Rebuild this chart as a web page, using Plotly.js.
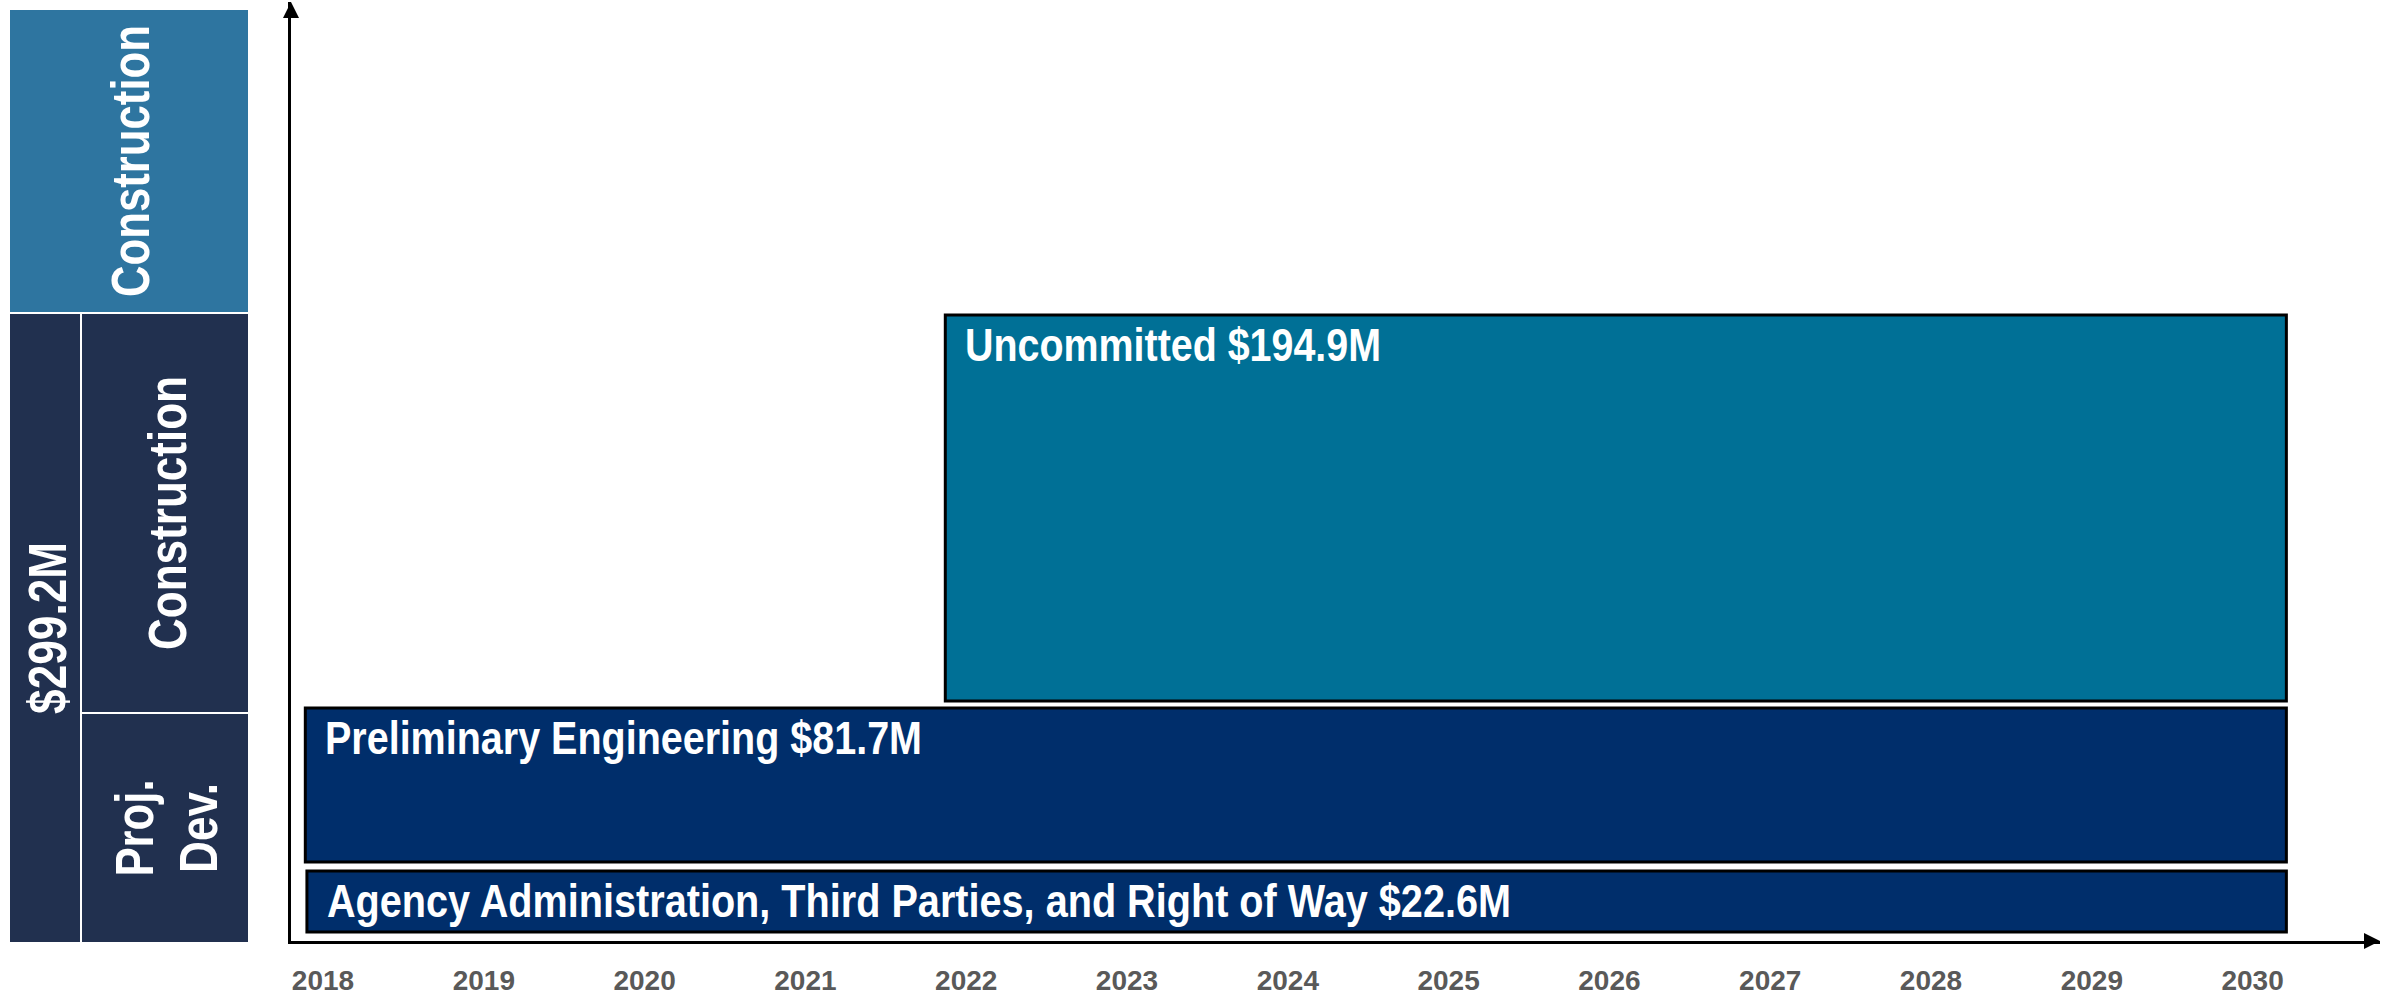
<!DOCTYPE html>
<html>
<head>
<meta charset="utf-8">
<script src="https://cdn.plot.ly/plotly-3.0.1.min.js"></script>
<style>html,body{margin:0;padding:0;background:#fff;}#chart{width:2400px;height:998px;}</style>
</head>
<body>
<div id="chart"></div>
<script>
// ---- data ----
const years = [2018, 2019, 2020, 2021, 2022, 2023, 2024, 2025, 2026, 2027, 2028, 2029, 2030];
const yearLabels = years.map(String);
const barNames = ['Agency Administration, Third Parties, and Right of Way', 'Preliminary Engineering', 'Uncommitted'];
const barAmounts = [22.6, 81.7, 194.9];           // $M
const barStart = [2017.9, 2017.89, 2021.87];       // timeline start (year)
const barEnd = [2030.21, 2030.21, 2030.21];        // timeline end (year)
const barBottom = [0.96, 8.41, 25.56];             // schematic vertical extent (0-100)
const barTop = [7.45, 24.81, 66.67];
const barColors = ['#002E6B', '#002E6B', '#007096'];
const totalLabel = '$299.2M';
const phaseLabels = ['Construction', 'Construction', 'Proj.', 'Dev.'];

// ---- layout helpers (pixel -> paper) ----
const W = 2400, H = 998;
const ML = 291, MR = 20, MT = 2, MB = 57;
const PW = W - ML - MR, PH = H - MT - MB;
const px = x => (x - ML) / PW;
const py = y => (H - MB - y) / PH;

const FONT = '"Liberation Sans", Arial, sans-serif';

const trace = {
  type: 'bar',
  orientation: 'h',
  y: barBottom.map((b, i) => (b + barTop[i]) / 2),
  width: barBottom.map((b, i) => barTop[i] - b),
  base: barStart,
  x: barStart.map((s, i) => barEnd[i] - s),
  marker: {color: barColors, line: {color: '#000000', width: 3}},
  hoverinfo: 'skip',
  showlegend: false
};

// condensed widths (px) to mimic the narrow typeface of the original
const condensed = [];

const annotations = barNames.map((n, i) => ({
  xref: 'x', yref: 'y', x: barStart[i], y: barTop[i],
  xanchor: 'left', yanchor: 'top', align: 'left', xshift: 18, yshift: -2,
  text: n + ' $' + barAmounts[i].toFixed(1) + 'M', showarrow: false,
  font: {family: FONT, size: 46, color: '#ffffff', weight: 'bold'}
}));
condensed.push(1184, 597, 416);

const sideText = (t, x, y) => ({
  xref: 'paper', yref: 'paper', x: px(x), y: py(y), xanchor: 'center', yanchor: 'middle',
  text: t, textangle: -90, showarrow: false,
  font: {family: FONT, size: 54, color: '#ffffff', weight: 'bold'}
});
annotations.push(sideText(phaseLabels[0], 130, 161)); condensed.push(272);
annotations.push(sideText(phaseLabels[1], 167, 513)); condensed.push(274);
annotations.push(sideText(totalLabel, 47, 628));      condensed.push(172);
annotations.push(sideText(phaseLabels[2], 134, 828)); condensed.push(97);
annotations.push(sideText(phaseLabels[3], 198, 828)); condensed.push(90);

const rect = (x0, y0, x1, y1, c) => ({
  type: 'rect', xref: 'paper', yref: 'paper', x0: px(x0), x1: px(x1), y0: py(y1), y1: py(y0),
  fillcolor: c, line: {width: 0}, layer: 'above'
});

const shapes = [
  rect(10, 10, 248, 312, '#2E75A0'),
  rect(10, 314, 80, 942, '#21304F'),
  rect(82, 314, 248, 712, '#21304F'),
  rect(82, 714, 248, 942, '#21304F'),
  // axis arrowheads
  {type: 'path', xref: 'paper', yref: 'paper', xsizemode: 'pixel', ysizemode: 'pixel',
   xanchor: 1, yanchor: 0, path: 'M -16 8 L 0 0 L -16 -8 Z', fillcolor: '#000', line: {width: 0}},
  {type: 'path', xref: 'paper', yref: 'paper', xsizemode: 'pixel', ysizemode: 'pixel',
   xanchor: 0, yanchor: 1, path: 'M -8 -16 L 0 0 L 8 -16 Z', fillcolor: '#000', line: {width: 0}}
];

const layout = {
  width: W, height: H,
  margin: {l: ML, r: MR, t: MT, b: MB, pad: 0},
  paper_bgcolor: '#ffffff', plot_bgcolor: '#ffffff',
  barmode: 'overlay',
  xaxis: {
    range: [2018 + (ML - 323) / 160.8, 2018 + (W - MR - 323) / 160.8],
    tickmode: 'array', tickvals: years, ticktext: yearLabels,
    showgrid: false, zeroline: false, showline: true, linecolor: '#000', linewidth: 3,
    ticks: '', ticklabelstandoff: 12,
    tickfont: {family: FONT, size: 28, color: '#595959', weight: 'bold'},
    fixedrange: true
  },
  yaxis: {
    range: [0, 100], showgrid: false, zeroline: false, showticklabels: false,
    showline: true, linecolor: '#000', linewidth: 3, ticks: '', fixedrange: true
  },
  annotations: annotations,
  shapes: shapes,
  showlegend: false
};

Plotly.newPlot('chart', [trace], layout, {displayModeBar: false, staticPlot: true}).then(gd => {
  const anns = gd.querySelectorAll('.annotation');
  anns.forEach(a => {
    const i = +a.getAttribute('data-index');
    const t = a.querySelector('text.annotation-text');
    if (t && condensed[i]) {
      t.setAttribute('lengthAdjust', 'spacingAndGlyphs');
      t.setAttribute('textLength', condensed[i]);
    }
  });
});
</script>
</body>
</html>
